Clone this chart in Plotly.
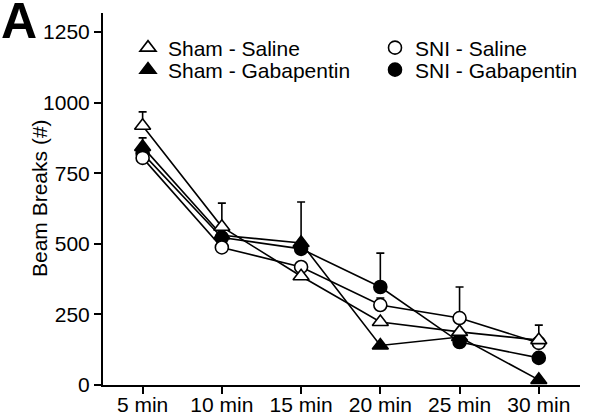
import plotly.graph_objects as go

categories = ["5 min", "10 min", "15 min", "20 min", "25 min", "30 min"]
y_ticks = [0, 250, 500, 750, 1000, 1250]

sham_saline = [918, 560, 385, 223, 188, 159]
sham_saline_err = [49, 84, 0, 0, 0, 53]
sham_gaba = [843, 530, 503, 140, 170, 18]
sham_gaba_err = [32, 0, 145, 0, 0, 0]
sni_saline = [804, 487, 418, 283, 237, 149]
sni_saline_err = [0, 0, 0, 25, 110, 0]
sni_gaba = [820, 522, 482, 347, 152, 96]
sni_gaba_err = [0, 0, 0, 120, 0, 0]

FONT = "Liberation Sans, Arial, sans-serif"

series = [
    ("Sham - Gabapentin", sham_gaba, sham_gaba_err, "triangle-up", "black", "legend3"),
    ("SNI - Gabapentin", sni_gaba, sni_gaba_err, "circle", "black", "legend4"),
    ("SNI - Saline", sni_saline, sni_saline_err, "circle", "white", "legend2"),
    ("Sham - Saline", sham_saline, sham_saline_err, "triangle-up", "white", "legend"),
]

fig = go.Figure()
for name, vals, err, sym, fill, leg in series:
    fig.add_trace(go.Scatter(
        x=categories, y=vals, mode="lines+markers", name=name, showlegend=False,
        line=dict(color="black", width=1.6),
        marker=dict(symbol=sym, size=13 if sym == "circle" else 14, color=fill,
                    line=dict(color="black", width=1.6)),
        error_y=dict(type="data", symmetric=False, array=err,
                     arrayminus=[0] * len(err), color="black", thickness=1.6, width=4),
    ))
    fig.add_trace(go.Scatter(
        x=[None], y=[None], mode="markers", name=name, legend=leg, showlegend=True,
        marker=dict(symbol=sym, size=13 if sym == "circle" else 14, color=fill,
                    line=dict(color="black", width=1.6)),
    ))

def leg(x, y):
    return dict(x=x, y=y, xanchor="left", yanchor="middle", bgcolor="rgba(0,0,0,0)",
                font=dict(family=FONT, size=21, color="black"), borderwidth=0)

# plot area: x 103..580, y 13..385
def px_x(p):
    return (p - 103) / 477.0

def px_y(p):
    return (385 - p) / 372.0

fig.update_layout(
    width=600, height=416,
    margin=dict(l=103, r=20, t=13, b=31),
    paper_bgcolor="white", plot_bgcolor="white",
    font=dict(family=FONT, size=21, color="black"),
    legend=leg(px_x(128), px_y(48)),
    legend2=leg(px_x(375), px_y(48)),
    legend3=leg(px_x(128), px_y(70)),
    legend4=leg(px_x(375), px_y(70)),
    xaxis=dict(
        type="category", range=[-0.5, 5.52], showline=True, linecolor="black", linewidth=2,
        ticks="outside", ticklen=7, tickwidth=2, tickcolor="black", showgrid=False,
        zeroline=False, tickfont=dict(family=FONT, size=21, color="black"),
        automargin=False, ticklabelstandoff=-7,
    ),
    yaxis=dict(
        range=[0, 1317], tickvals=y_ticks, showline=True, linecolor="black", linewidth=2,
        ticks="outside", ticklen=7, tickwidth=2, tickcolor="black", showgrid=False,
        zeroline=False, tickfont=dict(family=FONT, size=21, color="black"),
        automargin=False,
    ),
    annotations=[
        dict(text="<b>A</b>", xref="paper", yref="paper", x=px_x(0), y=px_y(-8),
             xanchor="left", yanchor="top", showarrow=False, borderpad=0,
             font=dict(family=FONT, size=50, color="black")),
        dict(text="Beam Breaks (#)", xref="paper", yref="paper", x=px_x(39), y=px_y(198),
             xanchor="center", yanchor="middle", textangle=-90, showarrow=False,
             font=dict(family=FONT, size=21, color="black")),
    ],
)

fig.write_html("out.html", config={"displayModeBar": False},
               post_script="document.body.style.margin='0';")
